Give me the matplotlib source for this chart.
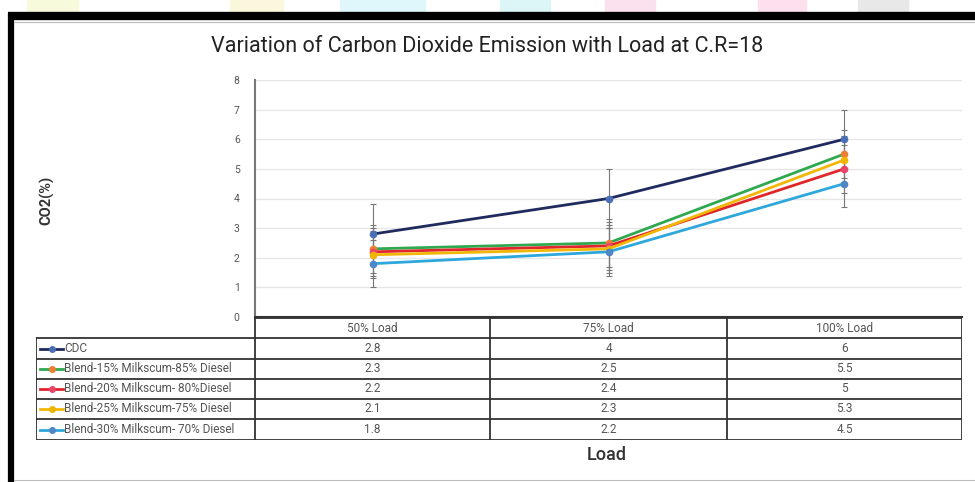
import numpy as np
import matplotlib.pyplot as plt
from matplotlib.lines import Line2D
from matplotlib.patches import Rectangle

plt.rcParams['font.family'] = ['Roboto', 'DejaVu Sans']

# data
loads = ['50% Load', '75% Load', '100% Load']
series_names = ['CDC',
                'Blend-15% Milkscum-85% Diesel',
                'Blend-20% Milkscum- 80%Diesel',
                'Blend-25% Milkscum-75% Diesel',
                'Blend-30% Milkscum- 70% Diesel']
cdc = [2.8, 4, 6]
blend15 = [2.3, 2.5, 5.5]
blend20 = [2.2, 2.4, 5]
blend25 = [2.1, 2.3, 5.3]
blend30 = [1.8, 2.2, 4.5]
err_cdc = [1.0, 1.0, 1.0]
err_blend = [0.8, 0.8, 0.8]

line_colors = ['#1f2a5e', '#2fa84f', '#e0262b', '#f2b705', '#2ea8dc']
marker_colors = ['#4a6fb5', '#ee7d31', '#e8456b', '#f0b400', '#4f86c6']

all_series = [cdc, blend15, blend20, blend25, blend30]
all_err = [err_cdc, err_blend, err_blend, err_blend, err_blend]

W, H = 975, 482
fig = plt.figure(figsize=(W / 100, H / 100), dpi=100)


def fx(px):
    return px / W


def fy(py):
    return 1 - py / H


# faint strip on top of the screenshot
strip = [(27, 78, '#f8fadc'), (230, 283, '#fbf7dc'), (340, 425, '#dff7fa'),
         (500, 550, '#dcf6f8'), (605, 655, '#fbe0ee'), (758, 806, '#fce0ee'),
         (858, 908, '#e8e8e8')]
for x0, x1, c in strip:
    fig.patches.append(Rectangle((fx(x0), fy(11)), fx(x1 - x0), 11 / H,
                                 transform=fig.transFigure, color=c, zorder=0))

# black frame
fig.add_artist(Line2D([fx(8), 1], [fy(16), fy(16)], color='black', lw=6.0,
                      transform=fig.transFigure, solid_capstyle='butt'))
fig.add_artist(Line2D([fx(11), fx(11)], [fy(13), 0], color='black', lw=4.5,
                      transform=fig.transFigure, solid_capstyle='butt'))
fig.add_artist(Line2D([fx(14), 1], [fy(22), fy(22)], color='#bbbbbb', lw=0.8,
                      transform=fig.transFigure))
fig.add_artist(Line2D([fx(14), 1], [fy(480), fy(480)], color='#bbbbbb', lw=0.8,
                      transform=fig.transFigure))

# main plot
ax = fig.add_axes([fx(255), fy(317), fx(962 - 255), (317 - 80) / H])
x = np.arange(len(loads))
for vals, err, lc, mc in zip(all_series, all_err, line_colors, marker_colors):
    ax.errorbar(x, vals, yerr=err, color=lc, lw=2.0, marker='o', ms=4.5,
                mfc=mc, mec=mc, ecolor='#777777', elinewidth=0.8, capsize=2.5,
                capthick=0.8, zorder=3)

ax.set_xlim(-0.5, 2.5)
ax.set_ylim(0, 8)
ax.set_yticks(range(0, 9))
ax.set_xticks([])
ax.grid(axis='y', color='#e6e6e6', lw=1.0)
ax.set_axisbelow(True)
for s in ['top', 'right']:
    ax.spines[s].set_visible(False)
ax.spines['left'].set_color('#777777')
ax.spines['left'].set_linewidth(1.5)
ax.spines['bottom'].set_color('#333333')
ax.spines['bottom'].set_linewidth(1.5)
ax.tick_params(axis='y', length=0, labelsize=7.5, labelcolor='#555555', pad=11)

fig.text(0.5, fy(47), 'Variation of Carbon Dioxide Emission with Load at C.R=18',
         ha='center', va='center', fontsize=15.5, color='#222222')
fig.text(fx(47), fy(200), 'CO2(%)', rotation=90, ha='center', va='center',
         fontsize=10.5, fontweight='bold', color='#333333')
fig.text(fx(607), fy(455), 'Load', ha='center', va='center', fontsize=13,
         fontweight='medium', color='#333333')

# data table under the plot
tab = fig.add_axes([fx(36), fy(440), fx(962 - 36), (440 - 318) / H])
tab.set_xlim(36, 962)
tab.set_ylim(440, 318)
tab.axis('off')
col_edges = [36, 255, 490, 727, 962]
row_edges = [318, 338, 359, 379, 399, 419, 440]
tc = '#333333'
# header row (no label cell)
tab.plot([255, 962], [318, 318], color=tc, lw=1.3)
for xe in col_edges[1:]:
    tab.plot([xe, xe], [318, 440], color=tc, lw=1.3)
tab.plot([36, 36], [338, 440], color=tc, lw=1.3)
for ye in row_edges[1:]:
    tab.plot([36, 962], [ye, ye], color=tc, lw=1.3)

fs = 8.5
col_centers = [(col_edges[i] + col_edges[i + 1]) / 2 for i in range(1, 4)]
for cx, lab in zip(col_centers, loads):
    tab.text(cx, 328, lab, ha='center', va='center', fontsize=fs, color='#555555')

for i, (name, vals) in enumerate(zip(series_names, all_series)):
    yc = (row_edges[i + 1] + row_edges[i + 2]) / 2
    tab.plot([40, 63], [yc, yc], color=line_colors[i], lw=2.0)
    tab.plot([51.5], [yc], marker='o', ms=4, color=marker_colors[i])
    tab.text(64, yc, name, ha='left', va='center', fontsize=fs, color='#555555')
    for cx, v in zip(col_centers, vals):
        tab.text(cx, yc, f'{v:g}', ha='center', va='center', fontsize=fs,
                 color='#555555')

fig.savefig('out.png', dpi=100)
